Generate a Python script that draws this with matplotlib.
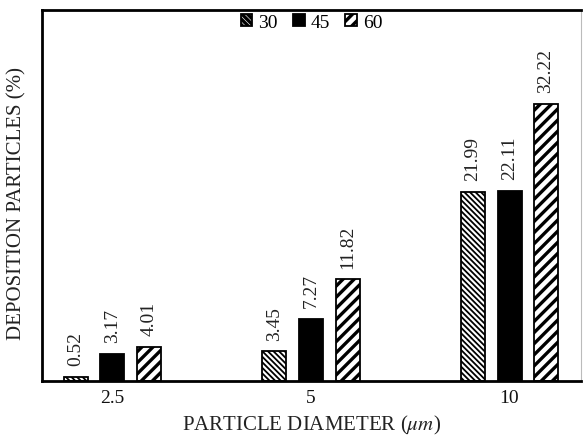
import matplotlib
matplotlib.use("Agg")
import matplotlib.pyplot as plt
import numpy as np

plt.rcParams['font.family'] = ['Liberation Serif', 'DejaVu Serif']
plt.rcParams['mathtext.fontset'] = 'stix'

categories = ['2.5', '5', '10']
series_names = ['30', '45', '60']
values_30 = [0.52, 3.45, 21.99]
values_45 = [3.17, 7.27, 22.11]
values_60 = [4.01, 11.82, 32.22]
xlabel = 'PARTICLE DIAMETER ($\\mu m$)'
ylabel = 'DEPOSITION PARTICLES (%)'

fig = plt.figure(figsize=(5.83, 4.39), dpi=100)
ax = fig.add_axes([42/583, 1-382/439, 539/583, 371/439])

x = np.arange(len(categories))
w = 0.121
pitch = 0.184
styles = [dict(facecolor='white', hatch='\\\\\\\\\\\\', edgecolor='black'),
          dict(facecolor='black', hatch=None, edgecolor='black'),
          dict(facecolor='white', hatch='///', edgecolor='black')]
hatch_lw = [1.3, 1.0, 2.4]
all_vals = [values_30, values_45, values_60]
for i, (vals, st, name) in enumerate(zip(all_vals, styles, series_names)):
    plt.rcParams['hatch.linewidth'] = hatch_lw[i]
    bars = ax.bar(x + (i - 1) * pitch, vals, w, label=name, linewidth=1.3, **st)
    for b, v in zip(bars, vals):
        ax.annotate(f'{v:.2f}', (b.get_x() + b.get_width()/2, v),
                    xytext=(0, 8.5), textcoords='offset points',
                    ha='center', va='bottom', rotation=90, fontsize=14, color='#222222')

ax.set_xlim(-0.355, 2.36)
ax.set_ylim(0, 43.2)
ax.set_xticks(x)
ax.set_xticklabels(categories, fontsize=14, color='#111111')
ax.tick_params(axis='x', length=0, pad=6)
ax.set_yticks([])
for s in ['left', 'bottom', 'top']:
    ax.spines[s].set_linewidth(2)
ax.spines['right'].set_color('#bbbbbb')
ax.spines['right'].set_linewidth(0.8)

ax.set_xlabel(xlabel, fontsize=15, color='#222222')
ax.xaxis.set_label_coords(0.5, -0.085)
ax.set_ylabel(ylabel, fontsize=15, color='#222222')
ax.yaxis.set_label_coords(-0.028, 0.48)

leg = ax.legend(loc='upper center', bbox_to_anchor=(0.5, 1.01), ncol=3, frameon=False,
                fontsize=14, handlelength=0.6, handleheight=0.6, handletextpad=0.3,
                columnspacing=0.8, borderaxespad=0.0)

fig.savefig('out.png', dpi=100)
